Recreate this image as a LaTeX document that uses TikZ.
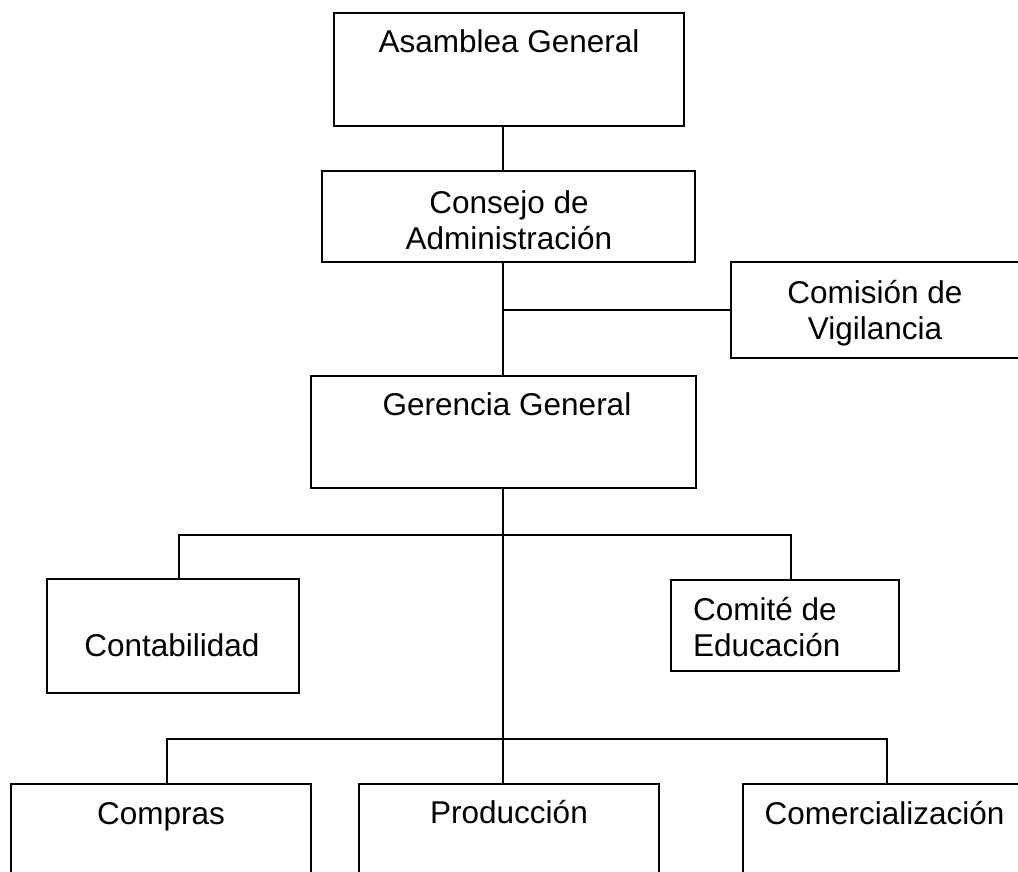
\documentclass[tikz,border=0pt]{standalone}
\usepackage{fontspec}
\setmainfont{Liberation Sans}
\begin{document}
\begin{tikzpicture}[x=1pt,y=-1pt,
  box/.style={draw, line width=1.6pt, inner sep=0pt},
  conn/.style={line width=1.6pt},
  lbl/.style={inner sep=0pt, font=\fontsize{31.5}{36}\selectfont, anchor=base}]
\useasboundingbox (0,0) rectangle (1018,872);
% boxes
\node[box, minimum width=350pt, minimum height=113pt] (ag) at (509,69.5) {};
\node[box, minimum width=373pt, minimum height=91pt]  (ca) at (508.5,216.5) {};
\node[box, minimum width=291pt, minimum height=96pt]  (cv) at (876.5,310) {};
\node[box, minimum width=385pt, minimum height=112pt] (gg) at (503.5,432) {};
\node[box, minimum width=252pt, minimum height=114pt] (co) at (173,636) {};
\node[box, minimum width=228pt, minimum height=91pt]  (ce) at (785,625.5) {};
\node[box, minimum width=300pt, minimum height=100pt] (cp) at (161,834) {};
\node[box, minimum width=300pt, minimum height=100pt] (pr) at (509,834) {};
\node[box, minimum width=283pt, minimum height=100pt] (cm) at (884.5,834) {};
% texts
\node[lbl] (agT) at (509,53) {Asamblea General};
\node[lbl] (caT) at (509,213) {\begin{tabular}[t]{@{}c@{}}Consejo de\\Administración\end{tabular}};
\node[lbl] (cvT) at (875,303) {\begin{tabular}[t]{@{}c@{}}Comisión de\\Vigilancia\end{tabular}};
\node[lbl] (ggT) at (507,415) {Gerencia General};
\node[lbl] (coT) at (172,656) {Contabilidad};
\node[lbl, anchor=base west] (ceT) at (693,620) {\begin{tabular}[t]{@{}l@{}}Comité de\\Educación\end{tabular}};
\node[lbl] (cpT) at (161,824) {Compras};
\node[lbl] (prT) at (509,823) {Producción};
\node[lbl] (cmT) at (884.5,824) {Comercialización};
% bus coordinates
\coordinate (trunk) at (503,0);
\coordinate (b1l) at (179,535);
\coordinate (b1r) at (791,535);
\coordinate (b2l) at (167,739);
\coordinate (b2r) at (887,739);
% connectors
\draw[conn] (ag.south -| trunk) -- (ca.north -| trunk);
\draw[conn] (ca.south -| trunk) -- (gg.north -| trunk);
\draw[conn] (cv.west) -- (cv.west -| trunk);
\draw[conn] (gg.south -| trunk) -- (pr.north -| trunk);
\draw[conn] (co.north -| b1l) -- (b1l) -- (b1r) -- (ce.north -| b1r);
\draw[conn] (cp.north -| b2l) -- (b2l) -- (b2r) -- (cm.north -| b2r);
\end{tikzpicture}
\end{document}
